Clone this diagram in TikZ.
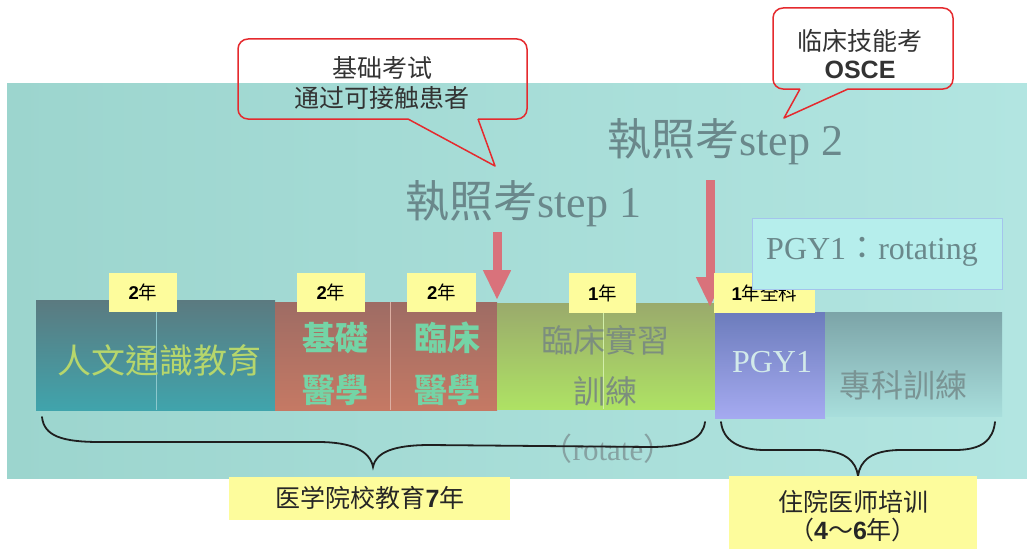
\documentclass[tikz,border=0pt]{standalone}
\usepackage{fontspec}
\setmainfont{Liberation Serif}
\newfontfamily\cjksc{Noto Sans CJK SC}
\newfontfamily\cjktc{Noto Sans CJK TC}
\newfontfamily\arialf{Liberation Sans}
\usetikzlibrary{arrows.meta}
\newcommand{\fsz}[2]{\fontsize{#1}{#2}\selectfont}
\newcommand{\dg}[1]{{\arialf\bfseries #1}}
\definecolor{bgL}{HTML}{9CD5CE}
\definecolor{bgR}{HTML}{B2E5E1}
\definecolor{ylw}{HTML}{FDFC9C}
\definecolor{calred}{HTML}{E52A2E}
\definecolor{arrred}{HTML}{D9727B}
\definecolor{bigtxt}{HTML}{6A888B}
\definecolor{bat}{HTML}{5B7A80}
\definecolor{bab}{HTML}{40A4AC}
\definecolor{bbt}{HTML}{9E6C64}
\definecolor{bbb}{HTML}{C57964}
\definecolor{bdt}{HTML}{9AAA6C}
\definecolor{bdb}{HTML}{AEE264}
\definecolor{bet}{HTML}{6C7CBC}
\definecolor{beb}{HTML}{A5AAF0}
\definecolor{bft}{HTML}{7CA4A8}
\definecolor{bfb}{HTML}{A8DEDC}
\definecolor{hutxt}{HTML}{B6D66C}
\definecolor{grtxt}{HTML}{74D4A6}
\definecolor{intxt}{HTML}{7C8E7E}
\definecolor{pgytxt}{HTML}{D2EAEA}
\definecolor{sptxt}{HTML}{7A9494}
\definecolor{rottxt}{HTML}{86A2A2}
\definecolor{rotfill}{HTML}{B6EEEC}
\definecolor{rotborder}{HTML}{A4C4EC}
\begin{document}
\begin{tikzpicture}[x=1pt,y=-1pt,
  ylabel/.style={fill=ylw, inner sep=0pt, text=black, font=\cjksc\fsz{18.5}{20}},
  bar/.style={inner sep=0pt, draw=none},
  barlabel/.style={inner sep=0pt, align=center},
  callout/.style={draw=calred, line width=1.5pt, line join=round},
  calltext/.style={text=black!80, align=center, inner sep=0pt},
  bigtext/.style={text=bigtxt, anchor=west, inner sep=0pt, font=\fsz{44}{50}},
  brace/.style={draw=black!88, line width=1.8pt, line cap=round},
  downarrow/.style={draw=arrred, line width=9pt, -{Triangle[length=30pt,width=26pt]}},
  bottombox/.style={fill=ylw, inner sep=0pt},
  bottomtext/.style={inner sep=0pt, align=center, text=black!85, font=\cjksc\fsz{25}{28}}
]
\useasboundingbox (0,0) rectangle (1027,551);
\fill[white] (0,0) rectangle (1027,551);
\shade[left color=bgL, right color=bgR] (7,83) rectangle (1027,478);

% bars
\node[bar, top color=bat, bottom color=bab, minimum width=239pt, minimum height=110pt] (hum) at (155.5,355) {};
\node[bar, top color=bbt, bottom color=bbb, minimum width=115pt, minimum height=108pt] (basic) at (332.5,356) {};
\node[bar, top color=bbt, bottom color=bbb, minimum width=107pt, minimum height=108pt] (clin) at (443.5,356) {};
\node[bar, top color=bdt, bottom color=bdb, minimum width=218pt, minimum height=106pt] (intern) at (606,356) {};
\node[bar, top color=bet, bottom color=beb, minimum width=110pt, minimum height=106pt] (pgy) at (770,365) {};
\node[bar, top color=bft, bottom color=bfb, minimum width=177pt, minimum height=104pt] (spec) at (913.5,364) {};
\draw[draw=bab!60!white, line width=0.8pt] (156,300) -- (156,410);
\draw[draw=bbb!60!white, line width=0.8pt] (390,302) -- (390,410);
\draw[draw=bdb!55!white, line width=0.8pt] (603,303) -- (603,409);

% bar texts
\node[barlabel, text=hutxt, font=\cjktc\fsz{34}{40}] (hutext) at (159,360) {人文通識教育};
\node[barlabel, text=grtxt, font=\cjktc\bfseries\fsz{33}{52}] (bastext) at (335,364) {基礎\\醫學};
\node[barlabel, text=grtxt, font=\cjktc\bfseries\fsz{33}{52}] (clitext) at (447,364) {臨床\\醫學};
\node[barlabel, text=intxt, font=\cjktc\fsz{32}{51}] (inttext) at (605,366) {臨床實習\\訓練};
\node[barlabel, text=pgytxt, font=\fsz{32}{40}] (pgytext) at (772,362) {PGY1};
\node[barlabel, text=sptxt, font=\cjktc\fsz{32}{40}] (spectext) at (903,385) {專科訓練};
\node[barlabel, text=rottxt, font=\fsz{31}{36}] (rot) at (608,449) {{\cjktc （}rotate{\cjktc ）}};

% red arrows
\coordinate (a1s) at (497,232);
\coordinate (a1e) at (497,300);
\coordinate (a2s) at (710,180);
\coordinate (a2e) at (710,307);
\draw[downarrow] (a1s) -- (a1e);
\draw[downarrow] (a2s) -- (a2e);

% yellow year labels
\node[ylabel, minimum width=68pt, minimum height=39pt] (y1) at (143,292.5) {\dg{2}年};
\node[ylabel, minimum width=68pt, minimum height=39pt] (y2) at (331,292.5) {\dg{2}年};
\node[ylabel, minimum width=69pt, minimum height=39pt] (y3) at (441.5,292.5) {\dg{2}年};
\node[ylabel, minimum width=67pt, minimum height=40pt] (y4) at (602.5,293) {\dg{1}年};
\node[ylabel, minimum width=101pt, minimum height=40pt] (y5) at (764.5,293) {\dg{1}年全科};

% braces
\coordinate (b1l) at (42,417);
\coordinate (b1t) at (373,467);
\coordinate (b1r) at (705,422);
\draw[brace] (b1l) .. controls (44,436) and (62,442) .. (100,442) -- (318,442)
  .. controls (352,442) and (370,451) .. (b1t)
  .. controls (376,452) and (394,445) .. (430,445) -- (650,447)
  .. controls (688,447) and (703,438) .. (b1r);
\coordinate (b2l) at (721,422);
\coordinate (b2t) at (858,476);
\coordinate (b2r) at (995,422);
\draw[brace] (b2l) .. controls (723,440) and (738,450) .. (765,450) -- (815,450)
  .. controls (845,450) and (856,461) .. (b2t)
  .. controls (860,461) and (871,450) .. (901,450) -- (955,450)
  .. controls (982,450) and (993,440) .. (b2r);

% bottom boxes
\node[bottombox, minimum width=281pt, minimum height=43pt] (medbox) at (369.5,498.5) {};
\node[bottomtext] (medtext) at (370,498) {医学院校教育\dg{7}年};
\node[bottombox, minimum width=248pt, minimum height=73pt] (resbox) at (853,512.5) {};
\node[bottomtext] (restext) at (853,516) {住院医师培训\\（\dg{4}～\dg{6}年）};

% PGY1 rotating box
\node[draw=rotborder, fill=rotfill, line width=1pt, minimum width=250pt, minimum height=71pt, inner sep=0pt] (rotbox) at (877,253.5) {};
\node[barlabel, text=bigtxt, font=\fsz{32}{36}] (rottext) at (872,252) {PGY1{\cjktc ：}rotating};

% big texts
\node[bigtext] (step1) at (405,204) {{\cjktc 執照考}step 1};
\node[bigtext] (step2) at (607,142) {{\cjktc 執照考}step 2};

% callouts
\coordinate (c1tip) at (495,166);
\draw[callout] (478,119) -- (c1tip) -- (408,119) [rounded corners=10pt] -- (238,119) -- (238,39) -- (527,39) -- (527,119) -- (478,119);
\node[calltext, font=\cjksc\fsz{25}{30}] (c1text) at (382,83) {基础考试\\通过可接触患者};
\coordinate (c2tip) at (784,118);
\draw[callout] (800,89) -- (c2tip) -- (848,89) [rounded corners=10pt] -- (953,89) -- (953,8) -- (773,8) -- (773,89) -- (800,89);
\node[calltext, font=\cjksc\fsz{25}{28}] (c2text) at (860,54) {临床技能考\\{\arialf\bfseries OSCE}};
\end{tikzpicture}
\end{document}
